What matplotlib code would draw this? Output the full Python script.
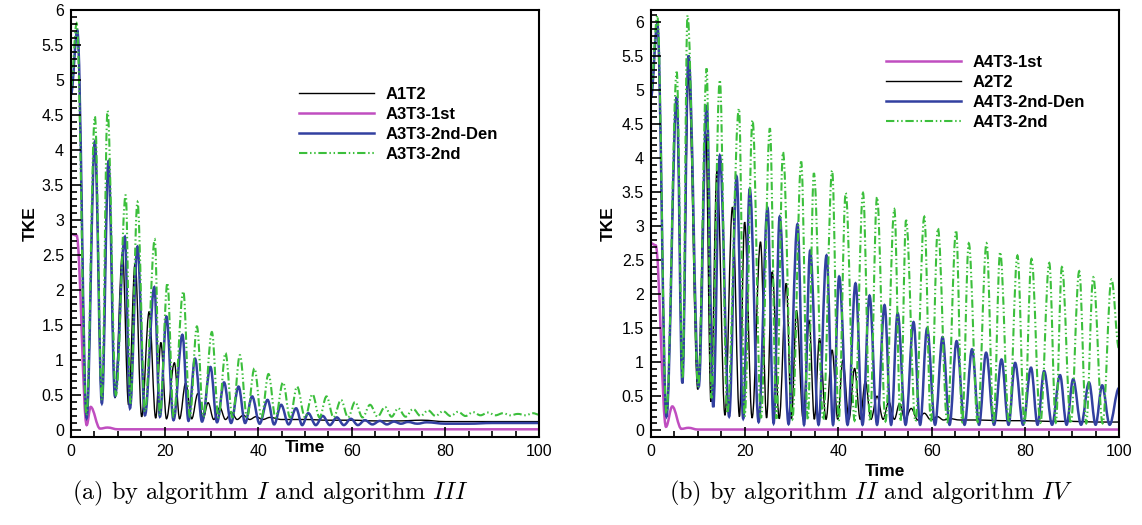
import matplotlib.pyplot as plt
import matplotlib.ticker as mticker
from matplotlib.path import Path
from matplotlib.patches import PathPatch

plt.rcParams['font.family'] = ['Liberation Sans', 'DejaVu Sans']
plt.rcParams['mathtext.fontset'] = 'cm'

# ---- data, panel (a): extrema (time, TKE)
a1t2_t = [0, 1.35, 3.35, 5.1, 6.6, 8.0, 9.4, 11.0, 12.3, 13.7, 15.1, 16.7, 18.1, 19.2, 20.4, 22.1,
          23.2, 24.5, 25.8, 27.1, 28.2, 29.3, 30.5, 31.8, 33.0, 34.3, 35.5, 36.8, 38.2, 39.5, 41,
          42.5, 45, 50, 55, 60, 65, 70, 75, 80, 85, 90, 95, 100]
a1t2_v = [4.8, 5.71, 0.17, 4.1, 0.38, 3.85, 0.46, 2.52, 0.36, 2.38, 0.19, 1.69, 0.17, 1.25, 0.16, 0.96,
          0.16, 0.67, 0.16, 0.52, 0.16, 0.39, 0.15, 0.32, 0.15, 0.25, 0.15, 0.21, 0.15, 0.19, 0.15,
          0.18, 0.15, 0.15, 0.14, 0.14, 0.13, 0.13, 0.14, 0.12, 0.12, 0.12, 0.12, 0.12]

a3t3_1st_t = [0, 1.2, 3.35, 4.2, 6.2, 7.8, 10, 100]
a3t3_1st_v = [2.8, 2.78, 0.07, 0.33, 0.02, 0.035, 0.01, 0.01]

a3t3_den_t = [0, 1.35, 3.35, 5.1, 6.6, 8.0, 9.4, 11.5, 12.6, 14.2, 15.8, 17.8, 19.0, 20.4, 21.9,
              23.8, 25.1, 26.5, 28.0, 29.8, 31.2, 32.7, 34.2, 35.8, 37.2, 38.7, 40.3, 42.0, 43.4,
              44.9, 46.5, 48.1, 49.4, 50.7, 52.3, 53.8, 55.3, 56.8, 58.3, 59.8, 61.3, 62.8, 64.4,
              66.0, 67.5, 69, 70.5, 72, 74, 76, 80, 85, 90, 95, 100]
a3t3_den_v = [4.8, 5.71, 0.17, 4.12, 0.38, 3.83, 0.48, 2.76, 0.31, 2.62, 0.21, 2.04, 0.19, 1.62, 0.14,
              1.36, 0.13, 1.02, 0.12, 0.90, 0.11, 0.68, 0.1, 0.62, 0.1, 0.48, 0.09, 0.43, 0.08,
              0.36, 0.08, 0.31, 0.07, 0.24, 0.07, 0.2, 0.07, 0.18, 0.07, 0.16, 0.07, 0.14, 0.08,
              0.13, 0.08, 0.12, 0.09, 0.115, 0.09, 0.11, 0.09, 0.09, 0.1, 0.1, 0.1]

a3t3_2nd_t = [0, 1.2, 3.3, 5.1, 6.6, 7.8, 9.6, 11.7, 12.7, 14.2, 15.8, 17.9, 19.0, 20.6, 21.9,
              24.0, 25.4, 26.9, 28.3, 30.1, 31.5, 33.0, 34.5, 36.1, 37.6, 39.2, 40.7, 42.2, 43.7,
              45.3, 46.8, 48.3, 50.0, 51.6, 53.1, 54.6, 56.1, 57.7, 59.2, 60.7, 62.3, 63.9, 65.5,
              67.1, 68.5, 69.9, 71.5, 73.1, 74.7, 76.3, 77.9, 79.5, 81.1, 82.7, 84.3, 85.9, 87.5,
              89.1, 90.7, 92.3, 93.9, 95.5, 97.1, 98.7, 100]
a3t3_2nd_v = [4.9, 5.81, 0.21, 4.48, 0.43, 4.56, 0.5, 3.36, 0.38, 3.26, 0.26, 2.72, 0.21, 2.1, 0.19,
              1.98, 0.19, 1.48, 0.19, 1.40, 0.18, 1.10, 0.18, 1.07, 0.18, 0.88, 0.18, 0.80, 0.18,
              0.68, 0.18, 0.62, 0.18, 0.51, 0.18, 0.48, 0.18, 0.43, 0.18, 0.40, 0.18, 0.36, 0.19,
              0.33, 0.19, 0.31, 0.19, 0.30, 0.2, 0.28, 0.2, 0.27, 0.2, 0.26, 0.2, 0.255, 0.21,
              0.25, 0.21, 0.24, 0.21, 0.23, 0.21, 0.24, 0.22]

# ---- data, panel (b)
a4t3_1st_t = [0, 1.0, 3.2, 4.55, 6.5, 8.0, 10, 100]
a4t3_1st_v = [2.75, 2.72, 0.05, 0.35, 0.02, 0.035, 0.01, 0.01]

a2t2_t = [0, 1.35, 3.3, 5.5, 6.7, 8.0, 10.0, 11.7, 12.8, 14.1, 15.8, 17.4, 18.9, 20.0, 21.6, 23.4,
          24.7, 25.9, 27.4, 28.9, 30.0, 31.1, 32.5, 33.8, 34.9, 36.0, 37.4, 38.7, 39.9, 41.0, 42.3,
          43.5, 44.7, 45.8, 47.0, 48.3, 49.6, 50.8, 52.0, 53.1, 54.3, 55.6, 57.0, 58.4, 59.8, 61.2,
          62.5, 63.8, 66, 70, 75, 80, 85, 90, 95, 100]
a2t2_v = [4.9, 5.98, 0.2, 4.9, 0.69, 5.2, 0.6, 4.36, 0.42, 3.82, 0.22, 3.28, 0.2, 3.06, 0.18, 2.77,
          0.18, 2.33, 0.17, 2.16, 0.17, 1.76, 0.17, 1.62, 0.16, 1.35, 0.16, 1.18, 0.16, 1.03, 0.16,
          0.91, 0.16, 0.72, 0.16, 0.5, 0.16, 0.42, 0.16, 0.39, 0.16, 0.32, 0.15, 0.25, 0.15, 0.2,
          0.15, 0.17, 0.15, 0.15, 0.14, 0.14, 0.13, 0.13, 0.12, 0.12]

a4t3_den_t = [0, 1.35, 3.3, 5.5, 6.7, 8.0, 10.2, 11.9, 13.3, 14.7, 16.7, 18.3, 19.7, 21.1, 23.0,
              24.9, 26.2, 27.5, 29.4, 31.3, 32.7, 34.0, 35.8, 37.5, 38.9, 40.2, 42.0, 43.7, 45.2,
              46.7, 48.3, 49.9, 51.3, 52.7, 54.4, 56.1, 57.5, 59.0, 60.7, 62.3, 63.8, 65.3, 67.0,
              68.6, 70.1, 71.6, 73.3, 74.9, 76.4, 77.8, 79.5, 81.2, 82.6, 84.0, 85.7, 87.4, 88.8,
              90.2, 91.9, 93.6, 95.0, 96.4, 98.0, 100]
a4t3_den_v = [4.9, 5.98, 0.2, 4.90, 0.69, 5.51, 0.64, 4.78, 0.34, 4.04, 0.2, 3.73, 0.17, 3.55, 0.12,
              3.27, 0.1, 3.14, 0.09, 3.03, 0.08, 2.64, 0.08, 2.57, 0.08, 2.26, 0.08, 2.16, 0.08,
              1.98, 0.08, 1.84, 0.08, 1.72, 0.08, 1.59, 0.08, 1.50, 0.08, 1.37, 0.08, 1.31, 0.08,
              1.19, 0.08, 1.14, 0.08, 1.04, 0.08, 0.99, 0.08, 0.92, 0.08, 0.87, 0.08, 0.81, 0.08,
              0.75, 0.08, 0.70, 0.08, 0.66, 0.08, 0.62]

a4t3_2nd_t = [0, 1.35, 3.3, 5.5, 6.75, 7.8, 10.1, 11.9, 12.9, 14.7, 16.3, 18.8, 20.0, 21.7, 23.5,
              25.4, 26.8, 28.2, 30.2, 32.1, 33.5, 34.8, 36.8, 38.7, 40.1, 41.6, 43.5, 45.3, 46.8,
              48.3, 50.1, 52.0, 53.3, 54.5, 56.5, 58.4, 59.8, 61.3, 63.3, 65.2, 66.5, 67.9, 69.8,
              71.7, 73.2, 74.6, 76.5, 78.3, 79.8, 81.3, 83.2, 85.1, 86.5, 87.8, 89.7, 91.5, 93.0,
              94.5, 96.5, 98.4, 100]
a4t3_2nd_v = [5.0, 6.10, 0.25, 5.27, 0.76, 6.10, 0.64, 5.32, 0.47, 5.15, 0.25, 4.73, 0.2, 4.56, 0.18,
              4.44, 0.17, 4.09, 0.16, 3.95, 0.15, 3.78, 0.15, 3.82, 0.14, 3.49, 0.14, 3.49, 0.14,
              3.43, 0.13, 3.25, 0.13, 3.09, 0.13, 3.14, 0.12, 2.97, 0.12, 2.94, 0.12, 2.75, 0.12,
              2.75, 0.11, 2.62, 0.11, 2.57, 0.11, 2.52, 0.11, 2.46, 0.11, 2.40, 0.1, 2.34, 0.1,
              2.25, 0.1, 2.22, 1.2]

black = 'black'
magenta = '#c04ec0'
blue = '#3240a0'
green = '#3cbf3c'
dashdotdot = (0, (4, 1.3, 0.7, 1.3, 0.7, 1.3))

W, H = 1142, 525
fig = plt.figure(figsize=(W / 100, H / 100), dpi=100)


def curve(ax, t, v, label, color, lw, ls='-'):
    # smooth curve through the read extrema (flat tangent at each extremum)
    verts = [(t[0], v[0])]
    codes = [Path.MOVETO]
    for i in range(1, len(t)):
        dx = t[i] - t[i - 1]
        verts += [(t[i - 1] + 0.36 * dx, v[i - 1]), (t[i] - 0.36 * dx, v[i]), (t[i], v[i])]
        codes += [Path.CURVE4] * 3
    ax.add_patch(PathPatch(Path(verts, codes), fill=False, edgecolor=color, lw=lw, linestyle=ls))
    ax.plot([], [], color=color, lw=lw, linestyle=ls, label=label)


def setup(ax, ytop, tke_x, time_y):
    ax.set_xlim(0, 100)
    ax.set_ylim(-0.1, ytop)
    ax.xaxis.set_major_locator(mticker.MultipleLocator(20))
    ax.xaxis.set_minor_locator(mticker.MultipleLocator(5))
    ax.yaxis.set_major_locator(mticker.MultipleLocator(0.5))
    ax.yaxis.set_minor_locator(mticker.MultipleLocator(0.1))
    ax.yaxis.set_major_formatter(mticker.FormatStrFormatter('%g'))
    ax.tick_params(which='both', direction='in', labelsize=11.5, pad=5, width=1.2)
    ax.tick_params(which='major', length=7)
    ax.tick_params(which='minor', length=4)
    for s in ax.spines.values():
        s.set_linewidth(1.5)
    ax.set_ylabel('TKE', fontsize=12.5, fontweight='bold')
    ax.set_xlabel('Time', fontsize=12.5, fontweight='bold')
    ax.yaxis.set_label_coords(tke_x, 0.5)
    ax.xaxis.set_label_coords(0.5, time_y)


def legend(ax, x, y):
    ax.legend(loc='upper left', bbox_to_anchor=(x / W, 1 - y / H), bbox_transform=fig.transFigure,
              frameon=False, borderpad=0, handlelength=4.5, handletextpad=0.7, labelspacing=0.3,
              prop={'weight': 'bold', 'size': 12})


# panel (a)
ax1 = fig.add_axes([71 / W, 88 / H, 468 / W, 427 / H])
curve(ax1, a1t2_t, a1t2_v, 'A1T2', black, 1.0)
curve(ax1, a3t3_1st_t, a3t3_1st_v, 'A3T3-1st', magenta, 1.8)
curve(ax1, a3t3_den_t, a3t3_den_v, 'A3T3-2nd-Den', blue, 1.8)
curve(ax1, a3t3_2nd_t, a3t3_2nd_v, 'A3T3-2nd', green, 1.5, dashdotdot)
setup(ax1, 6.0, -0.072, -0.008)
legend(ax1, 291, 79)

# panel (b)
ax2 = fig.add_axes([651 / W, 88 / H, 468 / W, 427 / H])
curve(ax2, a4t3_1st_t, a4t3_1st_v, 'A4T3-1st', magenta, 1.8)
curve(ax2, a2t2_t, a2t2_v, 'A2T2', black, 1.0)
curve(ax2, a4t3_den_t, a4t3_den_v, 'A4T3-2nd-Den', blue, 1.8)
curve(ax2, a4t3_2nd_t, a4t3_2nd_v, 'A4T3-2nd', green, 1.5, dashdotdot)
setup(ax2, 6.18, -0.075, -0.063)
legend(ax2, 878, 47)

fig.text(270 / W, 1 - 493 / H, r'(a) by algorithm $I$ and algorithm $III$', family='cmr10',
         fontsize=17.5, ha='center', va='center')
fig.text(871 / W, 1 - 493 / H, r'(b) by algorithm $II$ and algorithm $IV$', family='cmr10',
         fontsize=17.5, ha='center', va='center')

fig.savefig('out.png', dpi=100)
